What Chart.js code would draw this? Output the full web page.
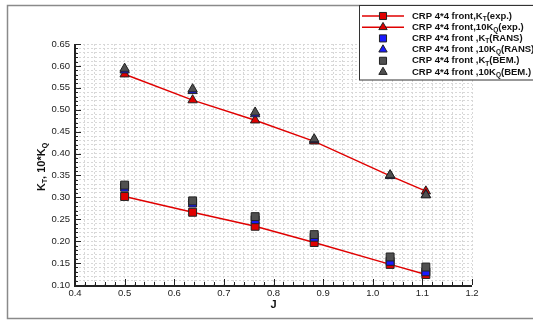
<!DOCTYPE html>
<html><head><meta charset="utf-8">
<script src="https://cdn.jsdelivr.net/npm/chart.js@4/dist/chart.umd.min.js"></script>
<style>html,body{margin:0;padding:0;background:#fff}#wrap{width:533px;height:320px;position:relative}</style>
</head><body><div id="wrap"><canvas id="c" width="533" height="320"></canvas></div>
<script>
const J = [0.5, 0.637, 0.763, 0.882, 1.035, 1.107];
const ktExp = [0.302, 0.266, 0.234, 0.197, 0.147, 0.124];
const kqExp = [0.581, 0.522, 0.476, 0.428, 0.349, 0.314];
const ktRans = [0.323, 0.287, 0.249, 0.209, 0.154, 0.130];
const kqRans = [0.590, 0.543, 0.490, 0.431, 0.350, 0.306];
const ktBem = [0.328, 0.292, 0.256, 0.215, 0.164, 0.141];
const kqBem = [0.594, 0.547, 0.494, 0.433, 0.351, 0.305];
const legendLabels = [
  ['CRP 4*4 front,K','T','(exp.)'],
  ['CRP 4*4 front,10K','Q','(exp.)'],
  ['CRP 4*4 front ,K','T','(RANS)'],
  ['CRP 4*4 front ,10K','Q','(RANS)'],
  ['CRP 4*4 front ,K','T','(BEM.)'],
  ['CRP 4*4 front ,10K','Q','(BEM.)']
];
const xTitle = 'J';

const pts = arr => J.map((x,i)=>({x:x,y:arr[i]}));
const RED='#e00000', BLUE='#1a1aff', GREY='#505050', EDGE='#222';
function ds(arr, color, style, line, order){
  return {data:pts(arr), showLine:line, borderColor: line?RED:EDGE, borderWidth: line?1.4:1,
    pointStyle:style, pointRadius: style==='rect'?5.6:5.4, pointBackgroundColor:color,
    pointBorderColor:EDGE, pointBorderWidth:1, order:order, tension:0, fill:false};
}
const datasets = [
  ds(ktExp, RED, 'rect', true, 2),
  ds(kqExp, RED, 'triangle', true, 2),
  ds(ktRans, BLUE, 'rect', false, 1),
  ds(kqRans, BLUE, 'triangle', false, 1),
  ds(ktBem, GREY, 'rect', false, 0),
  ds(kqBem, GREY, 'triangle', false, 0)
];
const legendStyle = [
  [RED,'rect',true],[RED,'triangle',true],[BLUE,'rect',false],[BLUE,'triangle',false],[GREY,'rect',false],[GREY,'triangle',false]
];
const isMult = (v,s)=>Math.abs(v/s - Math.round(v/s))<1e-6;
const FF='"Liberation Sans", Arial, sans-serif';

const deco = {
  id:'deco',
  beforeDraw(chart){
    const ctx=chart.ctx; ctx.save(); ctx.fillStyle='#fff'; ctx.fillRect(0,0,533,320); ctx.restore();
  },
  afterDatasetsDraw(chart){
    const ctx=chart.ctx, xs=chart.scales.x, ys=chart.scales.y, a=chart.chartArea;
    ctx.save();
    ctx.strokeStyle='#222'; ctx.lineWidth=1;
    for(let i=0;i<=40;i++){ const v=0.4+i*0.02; const px=Math.round(xs.getPixelForValue(v))+0.5;
      const len = isMult(v,0.1)?6:3; ctx.beginPath(); ctx.moveTo(px,a.bottom); ctx.lineTo(px,a.bottom-len); ctx.stroke(); }
    for(let i=0;i<=55;i++){ const v=0.10+i*0.01; const py=Math.round(ys.getPixelForValue(v))+0.5;
      const len = isMult(v,0.05)?6:3; ctx.beginPath(); ctx.moveTo(a.left,py); ctx.lineTo(a.left+len,py); ctx.stroke(); }
    ctx.lineWidth=2; ctx.beginPath(); ctx.moveTo(a.left,a.top); ctx.lineTo(a.left,a.bottom+1); ctx.lineTo(a.right,a.bottom+1); ctx.stroke();
    ctx.strokeStyle='#8a8a8a'; ctx.lineWidth=1.5; ctx.strokeRect(7.5,5.5,540,313);
    ctx.fillStyle='#fff'; ctx.fillRect(359,5,180,75);
    ctx.strokeStyle='#333'; ctx.lineWidth=1; ctx.strokeRect(359.5,5.5,180,74.5);
    ctx.textBaseline='middle'; ctx.textAlign='left';
    for(let i=0;i<6;i++){
      const y=16+i*11.2; const [col,st,ln]=legendStyle[i];
      if(ln){ ctx.strokeStyle=RED; ctx.lineWidth=1.5; ctx.beginPath(); ctx.moveTo(362,y); ctx.lineTo(404,y); ctx.stroke(); }
      ctx.fillStyle=col; ctx.strokeStyle=EDGE; ctx.lineWidth=1;
      Chart.helpers.drawPoint(ctx,{pointStyle:st,rotation:0,borderWidth:1,radius:st==='rect'?5:4.8},383,y);
      let x=412; const [t1,sub,t2]=legendLabels[i];
      ctx.fillStyle='#111'; ctx.font='bold 9.5px '+FF;
      ctx.fillText(t1,x,y); x+=ctx.measureText(t1).width;
      ctx.font='bold 6.5px '+FF; ctx.fillText(sub,x,y+3); x+=ctx.measureText(sub).width;
      ctx.font='bold 9.5px '+FF; ctx.fillText(t2,x,y);
    }
    ctx.save(); ctx.translate(42,167); ctx.rotate(-Math.PI/2);
    ctx.fillStyle='#111'; ctx.textBaseline='middle'; ctx.textAlign='left';
    const parts=[['K',11,0],['T',7,3],[', 10*K',11,0],['Q',7,3]];
    let w=0; parts.forEach(p=>{ctx.font='bold '+p[1]+'px '+FF; w+=ctx.measureText(p[0]).width;});
    let xx=-w/2; parts.forEach(p=>{ctx.font='bold '+p[1]+'px '+FF; ctx.fillText(p[0],xx,p[2]); xx+=ctx.measureText(p[0]).width;});
    ctx.restore();
    ctx.fillStyle='#111'; ctx.font='bold 11px '+FF; ctx.textAlign='center';
    ctx.fillText(xTitle, xs.getPixelForValue(0.8), 305);
    ctx.restore();
  }
};

new Chart(document.getElementById('c'), {
  type:'scatter',
  data:{datasets:datasets},
  plugins:[deco],
  options:{
    responsive:false, animation:false, devicePixelRatio:1,
    layout:{padding:{left:0,top:44,right:61,bottom:0}},
    plugins:{legend:{display:false}, tooltip:{enabled:false}},
    scales:{
      x:{type:'linear', min:0.4, max:1.2,
        afterFit(s){s.height=35;},
        ticks:{stepSize:0.02, autoSkip:false, maxRotation:0, padding:3, color:'#222',
          font:{family:FF, size:9.5},
          callback:v=>isMult(v,0.1)?Number(v).toFixed(1):''},
        grid:{color:'#d8d8d8', lineWidth:1, drawTicks:false},
        border:{display:false, dash:[2,2]}},
      y:{type:'linear', min:0.10, max:0.65,
        afterFit(s){s.width=75;},
        ticks:{stepSize:0.01, autoSkip:false, padding:5, color:'#222',
          font:{family:FF, size:9.5},
          callback:v=>isMult(v,0.05)?Number(v).toFixed(2):''},
        grid:{color:'#d8d8d8', lineWidth:1, drawTicks:false},
        border:{display:false, dash:[2,2]}}
    }
  }
});
</script></body></html>
